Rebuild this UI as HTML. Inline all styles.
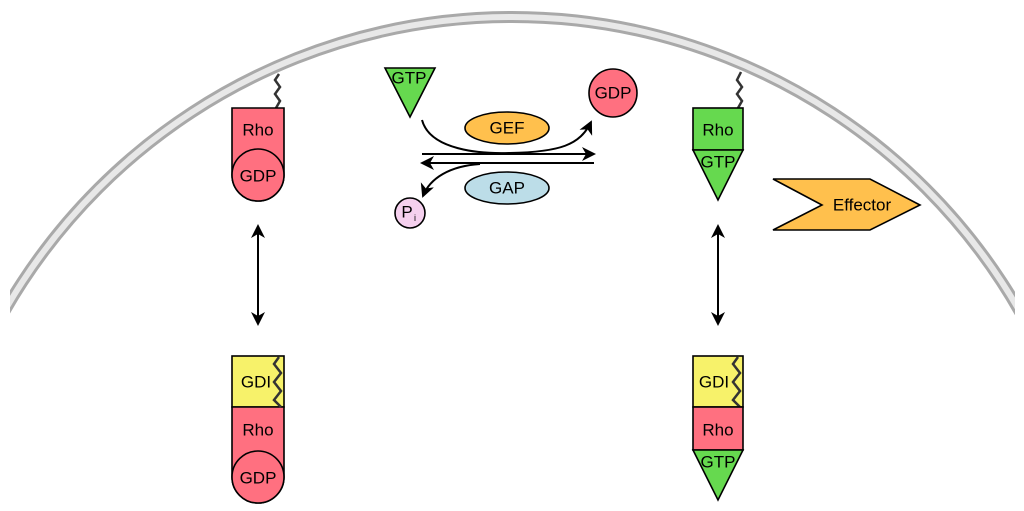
<!DOCTYPE html>
<html><head><meta charset="utf-8"><style>
html,body{margin:0;padding:0;background:#fff;width:1024px;height:511px;overflow:hidden;}
svg{display:block;}
text{font-family:"Liberation Sans",sans-serif;font-size:17px;fill:#000;text-anchor:middle;dominant-baseline:central;}
</style></head><body>
<svg width="1024" height="511" viewBox="0 0 1024 511" xmlns="http://www.w3.org/2000/svg">
<defs>
<clipPath id="c"><rect x="10" y="0" width="1005" height="511"/></clipPath>
<marker id="ah" markerWidth="14" markerHeight="14" refX="12" refY="7" orient="auto" markerUnits="userSpaceOnUse">
<path d="M0,0 L14,7 L0,14 L4,7 Z" fill="#000"/></marker>
</defs>
<g clip-path="url(#c)">
<circle cx="512" cy="602" r="585" fill="none" stroke="#a9a9a9" stroke-width="12"/>
<circle cx="512" cy="602" r="585" fill="none" stroke="#e8e8e8" stroke-width="6"/>
</g>
<g stroke="#000" stroke-width="1.6">
<path d="M276,108 L280,101 L275,94 L280,87 L275,80 L279,74" fill="none" stroke="#333" stroke-width="2.5"/>
<path d="M232,108 H284 V175 A26,26 0 0 1 232,175 Z" fill="#ff7080"/>
<circle cx="258" cy="175" r="26" fill="#ff7080"/>
<rect x="232" y="356" width="52" height="51" fill="#f7f26a"/>
<path d="M232,407 H284 V477 A26,26 0 0 1 232,477 Z" fill="#ff7080"/>
<circle cx="258" cy="477" r="26" fill="#ff7080"/>
<path d="M279,357 L274,364 L281,373 L274,382 L281,391 L274,400 L281,407" fill="none" stroke="#333" stroke-width="2.5"/>
<path d="M738,108 L742,101 L737,94 L742,87 L737,80 L741,72" fill="none" stroke="#333" stroke-width="2.5"/>
<rect x="693" y="108" width="50" height="42" fill="#66d94f"/>
<path d="M693,150 H743 L718,200 Z" fill="#66d94f"/>
<polygon points="773,179 870,179 920,205 870,230 773,230 822,205" fill="#ffc04d"/>
<rect x="693" y="356" width="50" height="51" fill="#f7f26a"/>
<path d="M738,357 L733,364 L740,373 L733,382 L740,391 L733,400 L740,407" fill="none" stroke="#333" stroke-width="2.5"/>
<rect x="693" y="407" width="50" height="43" fill="#ff7080"/>
<path d="M693,450 H743 L718,500 Z" fill="#66d94f"/>
<polygon points="385,68 435,68 410,117" fill="#66d94f"/>
<circle cx="613" cy="93" r="24" fill="#ff7080"/>
<ellipse cx="507" cy="128" rx="42" ry="16" fill="#ffc04d"/>
<ellipse cx="507" cy="188" rx="42" ry="16" fill="#bcdde8"/>
<circle cx="410" cy="213" r="15" fill="#f5d0ee"/>
<line x1="422" y1="154" x2="594" y2="154" fill="none" marker-end="url(#ah)" stroke-width="2"/>
<line x1="594" y1="163" x2="422" y2="163" fill="none" marker-end="url(#ah)" stroke-width="2"/>
<path d="M422,120 C430,150 480,154 510,153 C560,152 580,145 591,122" fill="none" marker-end="url(#ah)" stroke-width="2"/>
<path d="M480,164 C450,166 430,178 423,196" fill="none" marker-end="url(#ah)" stroke-width="2"/>
</g>
<line x1="718" y1="226" x2="718" y2="324" stroke="#000" stroke-width="2" marker-end="url(#ah)"/>
<line x1="718" y1="324" x2="718" y2="226" stroke="#000" stroke-width="2" marker-end="url(#ah)"/>
<line x1="258" y1="226" x2="258" y2="324" stroke="#000" stroke-width="2" marker-end="url(#ah)"/>
<line x1="258" y1="324" x2="258" y2="226" stroke="#000" stroke-width="2" marker-end="url(#ah)"/>
<text x="258" y="130">Rho</text>
<text x="258" y="176">GDP</text>
<text x="256" y="382">GDI</text>
<text x="258" y="430">Rho</text>
<text x="258" y="478">GDP</text>
<text x="718" y="130">Rho</text>
<text x="718" y="162">GTP</text>
<text x="862" y="205">Effector</text>
<text x="714" y="382">GDI</text>
<text x="718" y="430">Rho</text>
<text x="718" y="462">GTP</text>
<text x="409" y="78">GTP</text>
<text x="613" y="93">GDP</text>
<text x="507" y="128">GEF</text>
<text x="507" y="188">GAP</text>
<text x="407" y="212">P</text>
<text x="415" y="218" style="font-size:9px">i</text>
</svg>
</body></html>
